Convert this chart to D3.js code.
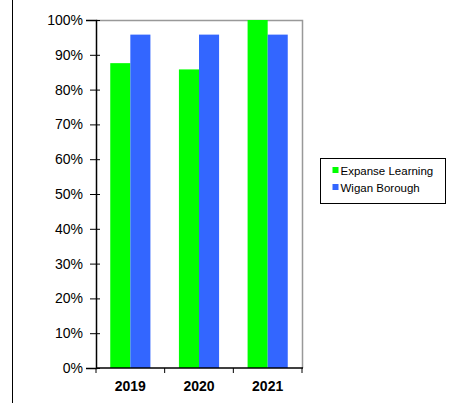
<!DOCTYPE html>
<html>
<head>
<meta charset="utf-8">
<script src="https://cdn.jsdelivr.net/npm/d3@7"></script>
<style>
  body { margin: 0; background: #fff; }
  text { font-family: "Liberation Sans", Arial, sans-serif; }
</style>
</head>
<body>
<div id="chart"></div>
<script>
// chart data
var years = ["2019", "2020", "2021"];
var seriesNames = ["Expanse Learning", "Wigan Borough"];
var expanse = [0.876, 0.858, 1.0];
var wigan = [0.958, 0.958, 0.958];
var yTicks = [0, 0.1, 0.2, 0.3, 0.4, 0.5, 0.6, 0.7, 0.8, 0.9, 1.0];
var colours = ["#00ff00", "#3366ff"];

var w = 455, h = 403;
var plot = { left: 96, top: 20, right: 302, bottom: 368 };

var svg = d3.select("#chart").append("svg")
    .attr("width", w)
    .attr("height", h);

// outer frame line on the left
svg.append("line")
    .attr("x1", 12.5).attr("x2", 12.5)
    .attr("y1", 0).attr("y2", h)
    .attr("stroke", "#000");

var x = d3.scaleBand()
    .domain(years)
    .range([plot.left, plot.right]);

var inner = d3.scaleBand()
    .domain(seriesNames)
    .range([0, x.bandwidth()])
    .paddingInner(0)
    .paddingOuter(0.71);

var y = d3.scaleLinear()
    .domain([0, 1])
    .range([plot.bottom, plot.top]);

// plot border (top and right in grey)
svg.append("path")
    .attr("d", "M" + plot.left + "," + (plot.top + 0.5) + "H" + (plot.right + 0.5) + "V" + plot.bottom)
    .attr("fill", "none")
    .attr("stroke", "#999")
    .attr("stroke-width", 1.5);

var rows = years.map(function (yr, i) {
    return { year: yr, values: [expanse[i], wigan[i]] };
});

var groups = svg.selectAll("g.year")
    .data(rows)
    .enter()
    .append("g")
    .attr("class", "year")
    .attr("transform", function (d) { return "translate(" + x(d.year) + ",0)"; });

groups.selectAll("rect")
    .data(function (d) {
        return d.values.map(function (v, j) { return { name: seriesNames[j], value: v, c: colours[j] }; });
    })
    .enter()
    .append("rect")
    .attr("x", function (d) { return inner(d.name); })
    .attr("width", inner.bandwidth())
    .attr("y", function (d) { return y(d.value); })
    .attr("height", function (d) { return plot.bottom - y(d.value); })
    .attr("fill", function (d) { return d.c; });

// y axis
var yAxis = d3.axisLeft(y)
    .tickValues(yTicks)
    .tickFormat(d3.format(".0%"))
    .tickSize(10)
    .tickPadding(3);

svg.append("g")
    .attr("transform", "translate(" + plot.left + ",0)")
    .call(yAxis)
    .call(function (g) {
        g.select(".domain").attr("stroke", "#000").attr("stroke-width", 1.5);
        g.selectAll(".tick line").attr("stroke", "#000").attr("x2", -6).attr("x1", 4);
        g.selectAll(".tick text")
            .attr("x", -13)
            .style("font-size", "14px")
            .style("font-family", "Liberation Sans, Arial, sans-serif")
            .attr("fill", "#000");
    });

// x axis, ticks between categories
var xAxis = svg.append("g")
    .attr("transform", "translate(0," + plot.bottom + ")");

xAxis.append("line")
    .attr("x1", plot.left).attr("x2", plot.right + 1)
    .attr("stroke", "#000")
    .attr("stroke-width", 1.5);

xAxis.selectAll("line.tk")
    .data(years.concat(["end"]))
    .enter()
    .append("line")
    .attr("class", "tk")
    .attr("x1", function (d, i) { return i < years.length ? x(d) : plot.right; })
    .attr("x2", function (d, i) { return i < years.length ? x(d) : plot.right; })
    .attr("y1", 0).attr("y2", 5)
    .attr("stroke", "#000");

xAxis.selectAll("text")
    .data(years)
    .enter()
    .append("text")
    .attr("x", function (d) { return x(d) + x.bandwidth() / 2; })
    .attr("y", 23)
    .attr("text-anchor", "middle")
    .style("font-size", "14px")
    .style("font-weight", "bold")
    .text(function (d) { return d; });

// legend
var legend = svg.append("g")
    .attr("transform", "translate(320.5,158.5)");

legend.append("rect")
    .attr("width", 125)
    .attr("height", 45)
    .attr("fill", "#fff")
    .attr("stroke", "#000");

var items = legend.selectAll("g.item")
    .data(seriesNames)
    .enter()
    .append("g")
    .attr("class", "item")
    .attr("transform", function (d, i) { return "translate(12," + (16 + i * 17) + ")"; });

items.append("rect")
    .attr("x", 0).attr("y", -7.5)
    .attr("width", 6).attr("height", 6)
    .attr("fill", function (d, i) { return colours[i]; });

items.append("text")
    .attr("x", 8)
    .attr("y", 0)
    .style("font-size", "11.5px")
    .text(function (d) { return d; });
</script>
</body>
</html>
